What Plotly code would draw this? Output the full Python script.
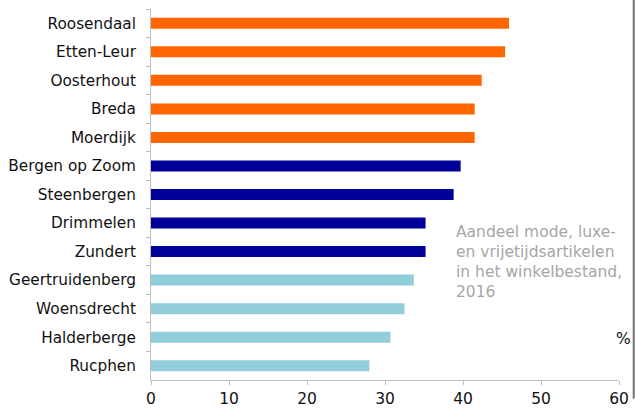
import plotly.graph_objects as go

gemeenten = ["Roosendaal", "Etten-Leur", "Oosterhout", "Breda", "Moerdijk",
             "Bergen op Zoom", "Steenbergen", "Drimmelen", "Zundert",
             "Geertruidenberg", "Woensdrecht", "Halderberge", "Rucphen"]
aandeel = [45.9, 45.4, 42.4, 41.5, 41.5, 39.7, 38.8, 35.2, 35.2, 33.7, 32.5, 30.7, 28.0]
klasse = ["hoog"] * 5 + ["midden"] * 4 + ["laag"] * 4
x_ticks = [0, 10, 20, 30, 40, 50, 60]

kleuren = {"hoog": "#FF6600", "midden": "#000099", "laag": "#92CDDC"}

fig = go.Figure(go.Bar(
    x=aandeel, y=gemeenten, orientation="h",
    marker=dict(color=[kleuren[k] for k in klasse], line=dict(width=0)),
    hoverinfo="x+y",
))

fig.update_layout(
    width=635, height=415,
    margin=dict(l=151, r=16, t=9, b=35, autoexpand=False),
    paper_bgcolor="white", plot_bgcolor="white",
    font=dict(family="DejaVu Sans", size=15, color="#111111"),
    bargap=0.614,
    showlegend=False,
    xaxis=dict(range=[0, 60], tickvals=x_ticks, ticktext=[str(v) for v in x_ticks],
               showgrid=False, zeroline=False, showline=True, linecolor="#BFBFBF",
               linewidth=1, ticks="outside", ticklen=4, tickcolor="#BFBFBF",
               tickfont=dict(size=15.5), automargin=False),
    yaxis=dict(autorange="reversed", showgrid=False, zeroline=False, showline=True,
               linecolor="#BFBFBF", linewidth=1, ticks="outside", ticklen=4,
               tickcolor="#BFBFBF", tickson="boundaries", ticklabelstandoff=11,
               tickfont=dict(size=15.3), automargin=False),
    annotations=[
        dict(text="Aandeel mode, luxe-<br>en vrijetijdsartikelen<br>in het winkelbestand,<br>2016",
             xref="x", yref="paper", x=38.9, y=0.318, xanchor="left", yanchor="middle",
             align="left", showarrow=False, font=dict(size=15.5, color="#A6A6A6")),
        dict(text="%", xref="paper", yref="paper", x=1.03, y=0.11, xanchor="right",
             yanchor="middle", showarrow=False, font=dict(size=15.5, color="#111111")),
    ],
    shapes=[dict(type="line", xref="paper", yref="paper", x0=1.0315, x1=1.0315,
                 y0=-0.05, y1=1.03, layer="above", line=dict(color="#707070", width=2))],
)

fig.write_html("out.html", config={"displayModeBar": False},
               post_script="document.body.style.margin='0';")
